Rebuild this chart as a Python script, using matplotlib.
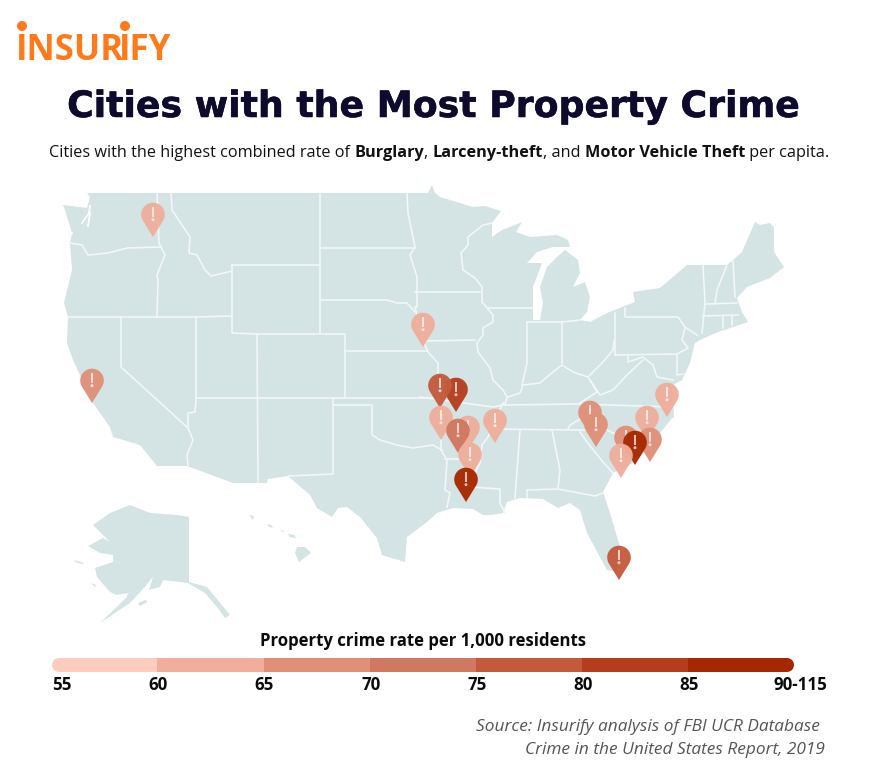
import bisect
import numpy as np
import matplotlib
matplotlib.use('Agg')
import matplotlib.pyplot as plt
import matplotlib.patheffects as pe
from matplotlib.patches import Polygon, Circle, Rectangle

# outlines, in image pixels
lower48 = [(63,205),(87,208),(90,197),(87,193),(413,193),(428,193),(432,185),(435,193),(440,197),(473,207),(485,206),(501,211),
    (492,223),(492,237),(502,230),(515,225),(522,222),(516,232),(530,237),(557,235),(568,240),(570,247),(553,247),(537,252),(527,263),
    (542,263),(533,287),(533,320),(540,320),(543,303),(540,287),(547,267),(557,257),(565,250),(578,260),(580,273),(573,287),(585,282),
    (590,297),(587,312),(580,320),(590,322),(607,313),(635,302),(633,292),(660,288),(687,265),(727,265),(733,260),(742,252),(755,222),
    (760,225),(770,223),(774,228),(774,252),(784,267),(770,278),(747,287),(737,298),(742,312),(748,322),(733,327),(718,332),(700,340),
    (695,343),(690,363),(682,380),(673,385),(674,420),(673,417),(660,433),(647,450),(633,463),(613,473),(603,492),(610,513),(620,547),
    (617,572),(607,570),(587,533),(580,510),(570,503),(558,508),(543,499),(520,498),(507,502),(503,513),(492,515),(483,515),(473,509),
    (453,508),(437,513),(427,522),(407,537),(405,562),(382,555),(377,538),(360,517),(347,507),(338,508),(332,517),(317,508),(310,495),
    (288,476),(268,479),(267,483),(233,483),(187,466),(157,466),(140,445),(113,437),(110,427),(93,403),(73,360),(67,343),(68,317),
    (64,303),(72,270),(70,243),(72,233),(66,213)]
alaska = [(130,505),(150,513),(177,515),(189,517),(189,582),(207,587),(220,603),(230,615),(225,618),(217,607),(205,593),(188,583),
    (163,580),(160,587),(149,590),(153,577),(142,590),(130,603),(100,623),(127,597),(128,593),(117,595),(110,592),(97,577),(95,568),
    (113,562),(113,555),(100,553),(88,546),(103,538),(110,542),(93,525),(110,513)]
islands = [[(297,547),(305,547),(311,553),(299,562),(295,553)],
    [(288,534),(294,535),(296,538),(290,537)],[(267,524),(271,525),(273,528),(269,527)],
    [(280,530),(284,531),(283,532)],[(249,515),(254,516),(253,520)],
    [(138,603),(146,600),(147,602),(140,606)],[(74,560),(84,563),(83,564),(75,562)],[(91,583),(96,585),(95,587)]]

state_lines = [
    [(70,243),(82,245),(88,255),(108,253),(127,248),(160,247)],
    [(157,193),(159,243),(165,255),(157,275),(158,280),(157,317)],
    [(171,193),(172,210),(190,237),(189,253),(197,255),(205,270),(211,276),(232,271)],
    [(232,265),(320,265)],[(232,265),(232,333),(257,334),(345,334),(345,351)],
    [(320,193),(320,334)],[(320,248),(415,248)],
    [(320,300),(387,300),(397,303),(407,303),(415,312)],
    [(407,193),(408,213),(415,247),(410,255),(417,277),(417,307)],
    [(415,292),(480,292)],[(423,341),(475,340)],
    [(415,307),(423,340),(428,352),(438,363),(438,383),(437,398)],
    [(345,351),(428,351)],[(345,351),(345,397)],
    [(196,398),(437,398)],[(257,334),(258,483)],
    [(333,398),(333,474),(288,476)],
    [(333,405),(372,405),(372,435),(380,440),(397,445),(413,448),(433,445),(442,450)],
    [(196,317),(196,400),(195,412),(188,413),(188,428),(193,440),(187,455),(188,465)],
    [(121,317),(121,367),(188,428)],[(68,317),(196,317),(232,316)],
    [(492,223),(483,225),(468,237),(468,245),(461,253),(463,270),(475,278),(482,287),(482,302),(493,315),(493,322),(483,328),(483,335),
     (477,343),(478,352),(490,368),(493,380),(503,390),(507,397),(505,405),(503,403),(488,437),(482,445),(480,463),(470,483),(470,487)],
    [(488,308),(533,308)],[(527,322),(527,363),(522,385)],[(527,322),(562,322),(580,320)],
    [(562,322),(562,363)],[(615,313),(615,355)],
    [(508,397),(520,393),(523,385),(540,383),(553,372),(562,365),(573,372),(588,377),(595,370),(603,362),(613,350),(614,341)],
    [(625,308),(625,317),(678,317),(685,327),(697,335)],[(615,355),(677,354)],
    [(685,328),(682,340),(688,348),(677,354),(677,375),(683,374)],
    [(628,355),(628,362),(643,357),(653,365),(657,377),(673,380)],
    [(588,377),(597,392),(580,403)],[(590,380),(600,395),(613,390),(627,375),(643,360)],
    [(505,405),(578,404),(673,407)],
    [(703,265),(705,303),(702,333)],[(727,265),(717,290),(715,304)],[(733,260),(735,297)],
    [(705,304),(737,303)],[(703,316),(738,315)],[(723,317),(723,328)],[(732,317),(732,325)],
    [(470,487),(500,489),(500,503),(505,513)],[(520,430),(515,498)],
    [(420,397),(493,407),(503,405)],[(488,429),(580,430)],
    [(593,412),(570,425),(568,429)],[(580,430),(607,430),(617,435),(637,433),(647,450)],
    [(580,432),(587,442),(603,462),(613,473)],[(552,430),(560,470),(558,488)],
    [(527,498),(527,490),(558,489),(595,496),(603,493)],
    [(445,459),(480,459)],[(438,383),(441,423),(441,450)],
    [(441,450),(447,460),(445,490),(450,493),(447,507)],
]
sound_lines = [[(90,206),(89,213),(82,223)],[(90,213),(88,226)],[(72,233),(70,236)]]

# property crime rate of each pinned city, bottom pin first
pin_x = [153,423,92,456,440,441,468,458,495,470,466,590,596,667,647,626,650,635,621,619]
pin_y = [237,347,403,412,408,440,450,453,443,477,502,435,447,417,440,460,462,465,478,580]
pin_rate = [62,62,67,82,77,62,62,72,62,62,95,67,67,62,62,67,67,95,62,77]

bin_edges = [60,65,70,75,80,85]
bin_colors = ['#ffcdbd','#f0ae9b','#e09078','#d07860','#c45a3c','#b53d1e','#a62800']
tick_labels = ['55','60','65','70','75','80','85','90-115']
bar_x = [52,157,264,370,476,582,688,794]
tick_x = [62,158,264,371,477,583,689,800]

LAND = '#d4e3e3'
INK = '#0b0b0b'
ORANGE = '#ff7a1a'

fig = plt.figure(figsize=(8.77,7.68), dpi=100)
ax = fig.add_axes([0,0,1,1])
ax.set_xlim(0,877)
ax.set_ylim(768,0)
ax.axis('off')

for shape in [lower48, alaska] + islands:
    ax.add_patch(Polygon(shape, closed=True, fc=LAND, ec='none', zorder=1))
for line in state_lines:
    xs, ys = zip(*line)
    ax.plot(xs, ys, color='#f2f7f7', lw=1.2, solid_joinstyle='round', zorder=2)
for line in sound_lines:
    xs, ys = zip(*line)
    ax.plot(xs, ys, color='white', lw=1.3, zorder=2)


def draw_pin(x, y, color, z):
    r = 11.8
    d = 22.5
    cy = y - d
    a = np.arccos(r / d)
    # arc runs the long way round the head, between the two tangents to the tip
    t = np.linspace(np.pi/2 + a, np.pi*2.5 - a, 60)
    px = np.r_[x, x + r*np.cos(t)]
    py = np.r_[y, cy + r*np.sin(t)]
    ax.add_patch(Polygon(np.c_[px, py], closed=True, fc=color, ec='none', alpha=0.96, zorder=z))
    ax.add_patch(Rectangle((x-1.1, cy-7.5), 2.2, 9.5, fc='white', ec='none', alpha=0.7, zorder=z))
    ax.add_patch(Circle((x, cy+5.2), 1.5, fc='white', ec='none', alpha=0.7, zorder=z))


for i, (x, y, rate) in enumerate(zip(pin_x, pin_y, pin_rate)):
    draw_pin(x, y, bin_colors[bisect.bisect_right(bin_edges, rate)], 5 + i*0.01)

# logo, split so the second dotted I sits under its dot
ax.text(16, 60, 'INSUR', color=ORANGE, fontsize=25, fontweight='bold', family='Open Sans', va='baseline', ha='left')
ax.text(119, 60, 'IFY', color=ORANGE, fontsize=25, fontweight='bold', family='Open Sans', va='baseline', ha='left')
ax.add_patch(Circle((22,26), 5, fc=ORANGE, ec='none'))
ax.add_patch(Circle((125,26), 5, fc=ORANGE, ec='none'))

title = ax.text(433, 107, 'Cities with the Most Property Crime', color='#0e0a2e', fontsize=26.1, fontweight='bold',
                family='DejaVu Sans', ha='center', va='center')
title.set_path_effects([pe.withStroke(linewidth=0.4, foreground='#0e0a2e')])

# subtitle is made of regular and bold runs
sub_parts = [('Cities with the highest combined rate of ', 'normal'), ('Burglary', 'bold'), (', ', 'normal'),
             ('Larceny-theft', 'bold'), (', and ', 'normal'), ('Motor Vehicle Theft', 'bold'), (' per capita.', 'normal')]
r = fig.canvas.get_renderer()
cur = 49
for s, w in sub_parts:
    t = ax.text(cur, 153, s.replace(' ', '\u00a0'), fontsize=11.7, fontweight=w, family='Open Sans', color='#111111', ha='left', va='center')
    cur += t.get_window_extent(r).width

# legend bar
for i, c in enumerate(bin_colors):
    ax.add_patch(Rectangle((bar_x[i] + (7 if i == 0 else 0), 658), bar_x[i+1] - bar_x[i] - (7 if i in (0, 6) else 0), 14, fc=c, ec='none', zorder=3))
ax.add_patch(Circle((59,665), 7, fc=bin_colors[0], ec='none', zorder=3))
ax.add_patch(Circle((787,665), 7, fc=bin_colors[-1], ec='none', zorder=3))
ax.text(423, 641, 'Property crime rate per 1,000 residents', fontsize=12.1, fontweight='bold', family='Open Sans', color=INK, ha='center', va='center')
for x, lab in zip(tick_x, tick_labels):
    ax.text(x, 685, lab, fontsize=12.2, fontweight='bold', family='Open Sans', color=INK, ha='center', va='center')

ax.text(824, 727, 'Source: Insurify analysis of FBI UCR Database ', fontsize=12.4, style='italic', family='Open Sans', color='#555555', ha='right', va='center')
ax.text(825, 750, 'Crime in the United States Report, 2019', fontsize=12.4, style='italic', family='Open Sans', color='#555555', ha='right', va='center')

fig.savefig('out.png', dpi=100)
